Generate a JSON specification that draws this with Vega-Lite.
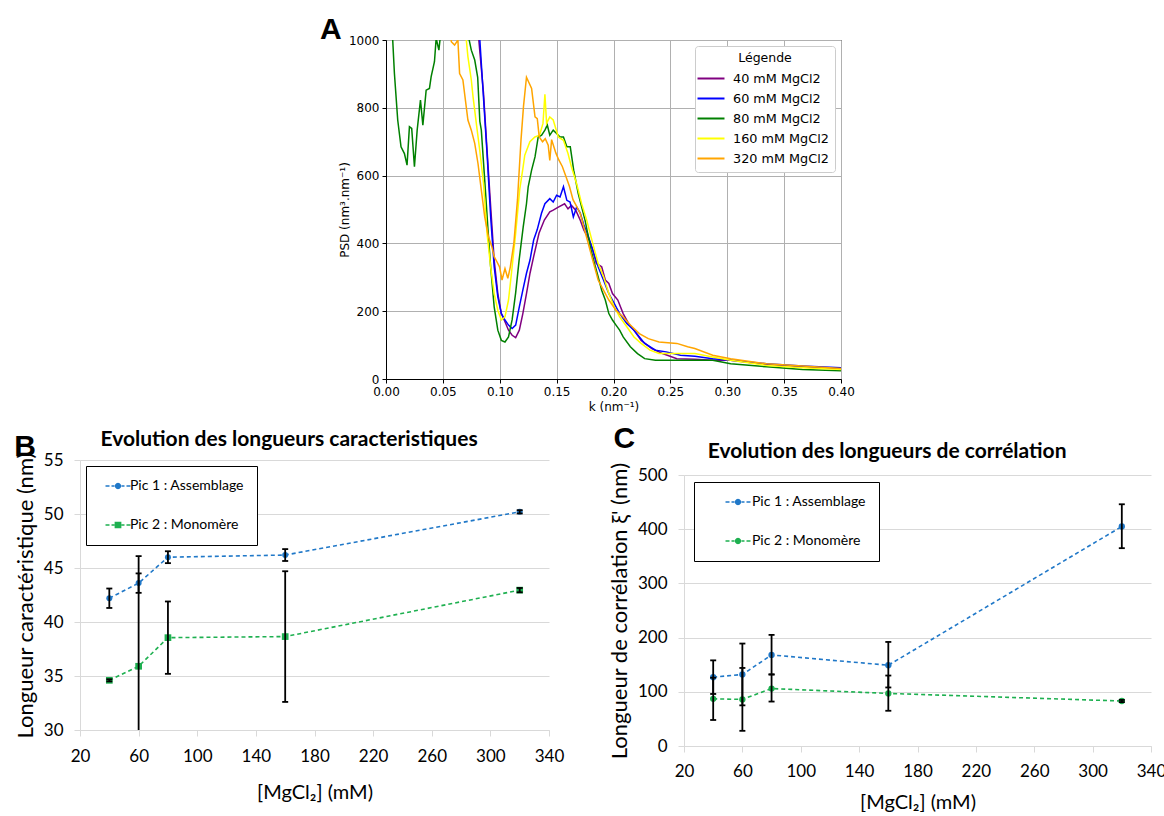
{
"$schema":"https://vega.github.io/schema/vega-lite/v6.json",
"padding":{"left":14,"top":14,"right":0,"bottom":0},
"background":"white",
"config":{"view":{"stroke":null},"font":"Lato","title":{"color":"#000"},"axis":{"labelColor":"#000","titleColor":"#000","titleFontWeight":"normal","labelOverlap":false}},
"spacing":11,
"resolve":{"scale":{"color":"independent","shape":"independent"},"legend":{"color":"independent","shape":"independent"}},
"datasets":{
"psd":[
{"s":"40 mM MgCl2","k":0.079,"p":1250},{"s":"40 mM MgCl2","k":0.0816,"p":1000},{"s":"40 mM MgCl2","k":0.0857,"p":844},{"s":"40 mM MgCl2","k":0.0888,"p":677},{"s":"40 mM MgCl2","k":0.092,"p":509},{"s":"40 mM MgCl2","k":0.0951,"p":351},{"s":"40 mM MgCl2","k":0.0983,"p":252},{"s":"40 mM MgCl2","k":0.1014,"p":193},{"s":"40 mM MgCl2","k":0.1046,"p":169},{"s":"40 mM MgCl2","k":0.1077,"p":144},{"s":"40 mM MgCl2","k":0.1109,"p":129},{"s":"40 mM MgCl2","k":0.114,"p":122},{"s":"40 mM MgCl2","k":0.1172,"p":144},{"s":"40 mM MgCl2","k":0.1203,"p":193},{"s":"40 mM MgCl2","k":0.1235,"p":252},{"s":"40 mM MgCl2","k":0.1266,"p":312},{"s":"40 mM MgCl2","k":0.1298,"p":361},{"s":"40 mM MgCl2","k":0.1345,"p":430},{"s":"40 mM MgCl2","k":0.1392,"p":469},{"s":"40 mM MgCl2","k":0.144,"p":493},{"s":"40 mM MgCl2","k":0.147,"p":498},{"s":"40 mM MgCl2","k":0.1515,"p":507},{"s":"40 mM MgCl2","k":0.157,"p":517},{"s":"40 mM MgCl2","k":0.16,"p":502},{"s":"40 mM MgCl2","k":0.163,"p":512},{"s":"40 mM MgCl2","k":0.1668,"p":498},{"s":"40 mM MgCl2","k":0.1707,"p":469},{"s":"40 mM MgCl2","k":0.1739,"p":440},{"s":"40 mM MgCl2","k":0.1786,"p":410},{"s":"40 mM MgCl2","k":0.1817,"p":381},{"s":"40 mM MgCl2","k":0.1849,"p":341},{"s":"40 mM MgCl2","k":0.1896,"p":331},{"s":"40 mM MgCl2","k":0.1928,"p":292},{"s":"40 mM MgCl2","k":0.1959,"p":282},{"s":"40 mM MgCl2","k":0.1991,"p":252},{"s":"40 mM MgCl2","k":0.2038,"p":233},{"s":"40 mM MgCl2","k":0.2085,"p":193},{"s":"40 mM MgCl2","k":0.2132,"p":164},{"s":"40 mM MgCl2","k":0.218,"p":144},{"s":"40 mM MgCl2","k":0.2243,"p":114},{"s":"40 mM MgCl2","k":0.2337,"p":90},{"s":"40 mM MgCl2","k":0.2431,"p":75},{"s":"40 mM MgCl2","k":0.2557,"p":60},{"s":"40 mM MgCl2","k":0.2715,"p":58},{"s":"40 mM MgCl2","k":0.2872,"p":55},{"s":"40 mM MgCl2","k":0.303,"p":55},{"s":"40 mM MgCl2","k":0.3345,"p":43},{"s":"40 mM MgCl2","k":0.3661,"p":36},{"s":"40 mM MgCl2","k":0.4,"p":30},
{"s":"60 mM MgCl2","k":0.08,"p":1250},{"s":"60 mM MgCl2","k":0.0825,"p":1000},{"s":"60 mM MgCl2","k":0.0857,"p":830},{"s":"60 mM MgCl2","k":0.0888,"p":667},{"s":"60 mM MgCl2","k":0.092,"p":479},{"s":"60 mM MgCl2","k":0.0951,"p":331},{"s":"60 mM MgCl2","k":0.0983,"p":242},{"s":"60 mM MgCl2","k":0.1014,"p":193},{"s":"60 mM MgCl2","k":0.1046,"p":174},{"s":"60 mM MgCl2","k":0.1077,"p":159},{"s":"60 mM MgCl2","k":0.1109,"p":149},{"s":"60 mM MgCl2","k":0.114,"p":159},{"s":"60 mM MgCl2","k":0.1172,"p":213},{"s":"60 mM MgCl2","k":0.1203,"p":262},{"s":"60 mM MgCl2","k":0.1235,"p":312},{"s":"60 mM MgCl2","k":0.1266,"p":351},{"s":"60 mM MgCl2","k":0.1298,"p":410},{"s":"60 mM MgCl2","k":0.1329,"p":440},{"s":"60 mM MgCl2","k":0.1367,"p":489},{"s":"60 mM MgCl2","k":0.1397,"p":517},{"s":"60 mM MgCl2","k":0.144,"p":532},{"s":"60 mM MgCl2","k":0.147,"p":522},{"s":"60 mM MgCl2","k":0.15,"p":542},{"s":"60 mM MgCl2","k":0.153,"p":537},{"s":"60 mM MgCl2","k":0.156,"p":567},{"s":"60 mM MgCl2","k":0.159,"p":527},{"s":"60 mM MgCl2","k":0.1618,"p":522},{"s":"60 mM MgCl2","k":0.1647,"p":478},{"s":"60 mM MgCl2","k":0.1676,"p":507},{"s":"60 mM MgCl2","k":0.1707,"p":490},{"s":"60 mM MgCl2","k":0.1739,"p":455},{"s":"60 mM MgCl2","k":0.177,"p":430},{"s":"60 mM MgCl2","k":0.1817,"p":381},{"s":"60 mM MgCl2","k":0.1865,"p":331},{"s":"60 mM MgCl2","k":0.1912,"p":292},{"s":"60 mM MgCl2","k":0.1959,"p":252},{"s":"60 mM MgCl2","k":0.2006,"p":223},{"s":"60 mM MgCl2","k":0.2054,"p":193},{"s":"60 mM MgCl2","k":0.2117,"p":164},{"s":"60 mM MgCl2","k":0.218,"p":144},{"s":"60 mM MgCl2","k":0.2274,"p":105},{"s":"60 mM MgCl2","k":0.2369,"p":85},{"s":"60 mM MgCl2","k":0.2463,"p":80},{"s":"60 mM MgCl2","k":0.2589,"p":70},{"s":"60 mM MgCl2","k":0.2715,"p":67},{"s":"60 mM MgCl2","k":0.2872,"p":60},{"s":"60 mM MgCl2","k":0.303,"p":55},{"s":"60 mM MgCl2","k":0.3345,"p":45},{"s":"60 mM MgCl2","k":0.3661,"p":38},{"s":"60 mM MgCl2","k":0.4,"p":33},
{"s":"80 mM MgCl2","k":0,"p":1400},{"s":"80 mM MgCl2","k":0.0059,"p":1000},{"s":"80 mM MgCl2","k":0.0074,"p":901},{"s":"80 mM MgCl2","k":0.0103,"p":764},{"s":"80 mM MgCl2","k":0.0132,"p":685},{"s":"80 mM MgCl2","k":0.0162,"p":665},{"s":"80 mM MgCl2","k":0.0185,"p":631},{"s":"80 mM MgCl2","k":0.0206,"p":744},{"s":"80 mM MgCl2","k":0.0226,"p":739},{"s":"80 mM MgCl2","k":0.025,"p":626},{"s":"80 mM MgCl2","k":0.0274,"p":734},{"s":"80 mM MgCl2","k":0.0303,"p":823},{"s":"80 mM MgCl2","k":0.0324,"p":749},{"s":"80 mM MgCl2","k":0.0353,"p":852},{"s":"80 mM MgCl2","k":0.0382,"p":857},{"s":"80 mM MgCl2","k":0.0397,"p":892},{"s":"80 mM MgCl2","k":0.0426,"p":936},{"s":"80 mM MgCl2","k":0.0441,"p":1005},{"s":"80 mM MgCl2","k":0.0465,"p":970},{"s":"80 mM MgCl2","k":0.0476,"p":1005},{"s":"80 mM MgCl2","k":0.05,"p":1400},{"s":"80 mM MgCl2","k":0.07,"p":1400},{"s":"80 mM MgCl2","k":0.0731,"p":1000},{"s":"80 mM MgCl2","k":0.075,"p":970},{"s":"80 mM MgCl2","k":0.078,"p":941},{"s":"80 mM MgCl2","k":0.0806,"p":890},{"s":"80 mM MgCl2","k":0.0825,"p":760},{"s":"80 mM MgCl2","k":0.0838,"p":734},{"s":"80 mM MgCl2","k":0.0868,"p":586},{"s":"80 mM MgCl2","k":0.0897,"p":439},{"s":"80 mM MgCl2","k":0.092,"p":331},{"s":"80 mM MgCl2","k":0.0951,"p":213},{"s":"80 mM MgCl2","k":0.0983,"p":144},{"s":"80 mM MgCl2","k":0.1014,"p":114},{"s":"80 mM MgCl2","k":0.1046,"p":109},{"s":"80 mM MgCl2","k":0.1077,"p":124},{"s":"80 mM MgCl2","k":0.1109,"p":175},{"s":"80 mM MgCl2","k":0.114,"p":255},{"s":"80 mM MgCl2","k":0.117,"p":350},{"s":"80 mM MgCl2","k":0.1206,"p":448},{"s":"80 mM MgCl2","k":0.1235,"p":517},{"s":"80 mM MgCl2","k":0.125,"p":567},{"s":"80 mM MgCl2","k":0.128,"p":616},{"s":"80 mM MgCl2","k":0.131,"p":655},{"s":"80 mM MgCl2","k":0.1338,"p":714},{"s":"80 mM MgCl2","k":0.1368,"p":719},{"s":"80 mM MgCl2","k":0.1397,"p":734},{"s":"80 mM MgCl2","k":0.1418,"p":749},{"s":"80 mM MgCl2","k":0.144,"p":719},{"s":"80 mM MgCl2","k":0.147,"p":734},{"s":"80 mM MgCl2","k":0.15,"p":724},{"s":"80 mM MgCl2","k":0.153,"p":714},{"s":"80 mM MgCl2","k":0.156,"p":714},{"s":"80 mM MgCl2","k":0.159,"p":685},{"s":"80 mM MgCl2","k":0.162,"p":685},{"s":"80 mM MgCl2","k":0.165,"p":616},{"s":"80 mM MgCl2","k":0.169,"p":547},{"s":"80 mM MgCl2","k":0.175,"p":468},{"s":"80 mM MgCl2","k":0.1802,"p":381},{"s":"80 mM MgCl2","k":0.1833,"p":341},{"s":"80 mM MgCl2","k":0.1865,"p":302},{"s":"80 mM MgCl2","k":0.1896,"p":262},{"s":"80 mM MgCl2","k":0.1928,"p":233},{"s":"80 mM MgCl2","k":0.1959,"p":193},{"s":"80 mM MgCl2","k":0.1991,"p":174},{"s":"80 mM MgCl2","k":0.2022,"p":159},{"s":"80 mM MgCl2","k":0.2054,"p":144},{"s":"80 mM MgCl2","k":0.2085,"p":124},{"s":"80 mM MgCl2","k":0.2148,"p":95},{"s":"80 mM MgCl2","k":0.2211,"p":75},{"s":"80 mM MgCl2","k":0.2274,"p":60},{"s":"80 mM MgCl2","k":0.2369,"p":55},{"s":"80 mM MgCl2","k":0.2589,"p":55},{"s":"80 mM MgCl2","k":0.2872,"p":55},{"s":"80 mM MgCl2","k":0.303,"p":45},{"s":"80 mM MgCl2","k":0.3345,"p":36},{"s":"80 mM MgCl2","k":0.3661,"p":28},{"s":"80 mM MgCl2","k":0.4,"p":24},
{"s":"160 mM MgCl2","k":0.068,"p":1200},{"s":"160 mM MgCl2","k":0.0706,"p":1000},{"s":"160 mM MgCl2","k":0.072,"p":951},{"s":"160 mM MgCl2","k":0.075,"p":882},{"s":"160 mM MgCl2","k":0.0765,"p":833},{"s":"160 mM MgCl2","k":0.0794,"p":754},{"s":"160 mM MgCl2","k":0.0824,"p":675},{"s":"160 mM MgCl2","k":0.0857,"p":578},{"s":"160 mM MgCl2","k":0.0888,"p":430},{"s":"160 mM MgCl2","k":0.092,"p":331},{"s":"160 mM MgCl2","k":0.0951,"p":252},{"s":"160 mM MgCl2","k":0.0983,"p":203},{"s":"160 mM MgCl2","k":0.1014,"p":174},{"s":"160 mM MgCl2","k":0.1046,"p":183},{"s":"160 mM MgCl2","k":0.1077,"p":233},{"s":"160 mM MgCl2","k":0.1109,"p":331},{"s":"160 mM MgCl2","k":0.114,"p":430},{"s":"160 mM MgCl2","k":0.1176,"p":560},{"s":"160 mM MgCl2","k":0.1203,"p":620},{"s":"160 mM MgCl2","k":0.122,"p":660},{"s":"160 mM MgCl2","k":0.1265,"p":700},{"s":"160 mM MgCl2","k":0.1309,"p":714},{"s":"160 mM MgCl2","k":0.135,"p":719},{"s":"160 mM MgCl2","k":0.138,"p":754},{"s":"160 mM MgCl2","k":0.1397,"p":840},{"s":"160 mM MgCl2","k":0.1412,"p":754},{"s":"160 mM MgCl2","k":0.144,"p":773},{"s":"160 mM MgCl2","k":0.147,"p":764},{"s":"160 mM MgCl2","k":0.1515,"p":714},{"s":"160 mM MgCl2","k":0.156,"p":704},{"s":"160 mM MgCl2","k":0.16,"p":665},{"s":"160 mM MgCl2","k":0.163,"p":626},{"s":"160 mM MgCl2","k":0.1676,"p":576},{"s":"160 mM MgCl2","k":0.172,"p":517},{"s":"160 mM MgCl2","k":0.1765,"p":468},{"s":"160 mM MgCl2","k":0.1802,"p":420},{"s":"160 mM MgCl2","k":0.1833,"p":380},{"s":"160 mM MgCl2","k":0.1865,"p":341},{"s":"160 mM MgCl2","k":0.1912,"p":302},{"s":"160 mM MgCl2","k":0.1959,"p":252},{"s":"160 mM MgCl2","k":0.2006,"p":213},{"s":"160 mM MgCl2","k":0.2054,"p":183},{"s":"160 mM MgCl2","k":0.2117,"p":154},{"s":"160 mM MgCl2","k":0.218,"p":124},{"s":"160 mM MgCl2","k":0.2243,"p":105},{"s":"160 mM MgCl2","k":0.2321,"p":85},{"s":"160 mM MgCl2","k":0.24,"p":75},{"s":"160 mM MgCl2","k":0.2557,"p":75},{"s":"160 mM MgCl2","k":0.2715,"p":75},{"s":"160 mM MgCl2","k":0.2872,"p":65},{"s":"160 mM MgCl2","k":0.303,"p":55},{"s":"160 mM MgCl2","k":0.3345,"p":40},{"s":"160 mM MgCl2","k":0.3661,"p":33},{"s":"160 mM MgCl2","k":0.4,"p":28},
{"s":"320 mM MgCl2","k":0.054,"p":1200},{"s":"320 mM MgCl2","k":0.0574,"p":995},{"s":"320 mM MgCl2","k":0.0603,"p":985},{"s":"320 mM MgCl2","k":0.0632,"p":1000},{"s":"320 mM MgCl2","k":0.0647,"p":901},{"s":"320 mM MgCl2","k":0.0676,"p":882},{"s":"320 mM MgCl2","k":0.072,"p":764},{"s":"320 mM MgCl2","k":0.075,"p":734},{"s":"320 mM MgCl2","k":0.078,"p":695},{"s":"320 mM MgCl2","k":0.0809,"p":635},{"s":"320 mM MgCl2","k":0.0838,"p":557},{"s":"320 mM MgCl2","k":0.0868,"p":478},{"s":"320 mM MgCl2","k":0.09,"p":420},{"s":"320 mM MgCl2","k":0.093,"p":391},{"s":"320 mM MgCl2","k":0.0951,"p":361},{"s":"320 mM MgCl2","k":0.0967,"p":351},{"s":"320 mM MgCl2","k":0.0998,"p":331},{"s":"320 mM MgCl2","k":0.102,"p":292},{"s":"320 mM MgCl2","k":0.1046,"p":326},{"s":"320 mM MgCl2","k":0.1071,"p":297},{"s":"320 mM MgCl2","k":0.1093,"p":331},{"s":"320 mM MgCl2","k":0.1124,"p":400},{"s":"320 mM MgCl2","k":0.1156,"p":529},{"s":"320 mM MgCl2","k":0.1187,"p":706},{"s":"320 mM MgCl2","k":0.1209,"p":805},{"s":"320 mM MgCl2","k":0.1235,"p":890},{"s":"320 mM MgCl2","k":0.128,"p":857},{"s":"320 mM MgCl2","k":0.131,"p":773},{"s":"320 mM MgCl2","k":0.133,"p":768},{"s":"320 mM MgCl2","k":0.1347,"p":714},{"s":"320 mM MgCl2","k":0.1376,"p":700},{"s":"320 mM MgCl2","k":0.14,"p":709},{"s":"320 mM MgCl2","k":0.1426,"p":690},{"s":"320 mM MgCl2","k":0.144,"p":645},{"s":"320 mM MgCl2","k":0.1456,"p":706},{"s":"320 mM MgCl2","k":0.1493,"p":667},{"s":"320 mM MgCl2","k":0.1518,"p":647},{"s":"320 mM MgCl2","k":0.155,"p":627},{"s":"320 mM MgCl2","k":0.1581,"p":598},{"s":"320 mM MgCl2","k":0.1613,"p":568},{"s":"320 mM MgCl2","k":0.1644,"p":529},{"s":"320 mM MgCl2","k":0.1676,"p":509},{"s":"320 mM MgCl2","k":0.1707,"p":489},{"s":"320 mM MgCl2","k":0.1739,"p":449},{"s":"320 mM MgCl2","k":0.177,"p":410},{"s":"320 mM MgCl2","k":0.1817,"p":351},{"s":"320 mM MgCl2","k":0.1865,"p":292},{"s":"320 mM MgCl2","k":0.1912,"p":262},{"s":"320 mM MgCl2","k":0.1959,"p":233},{"s":"320 mM MgCl2","k":0.2022,"p":203},{"s":"320 mM MgCl2","k":0.2085,"p":183},{"s":"320 mM MgCl2","k":0.2148,"p":159},{"s":"320 mM MgCl2","k":0.2227,"p":134},{"s":"320 mM MgCl2","k":0.2306,"p":119},{"s":"320 mM MgCl2","k":0.24,"p":109},{"s":"320 mM MgCl2","k":0.2557,"p":105},{"s":"320 mM MgCl2","k":0.2652,"p":95},{"s":"320 mM MgCl2","k":0.2715,"p":90},{"s":"320 mM MgCl2","k":0.2872,"p":70},{"s":"320 mM MgCl2","k":0.303,"p":60},{"s":"320 mM MgCl2","k":0.3345,"p":45},{"s":"320 mM MgCl2","k":0.3661,"p":38},{"s":"320 mM MgCl2","k":0.4,"p":31}
],
"lb":[
{"c":40,"serie":"Pic 1 : Assemblage","v":42.2,"lo":41.3,"hi":43.1},{"c":60,"serie":"Pic 1 : Assemblage","v":43.6,"lo":42.7,"hi":44.5},{"c":80,"serie":"Pic 1 : Assemblage","v":46.0,"lo":45.45,"hi":46.55},{"c":160,"serie":"Pic 1 : Assemblage","v":46.2,"lo":45.65,"hi":46.75},{"c":320,"serie":"Pic 1 : Assemblage","v":50.2,"lo":50.05,"hi":50.35},
{"c":40,"serie":"Pic 2 : Monomère","v":34.6,"lo":34.5,"hi":34.7},{"c":60,"serie":"Pic 2 : Monomère","v":35.9,"lo":25.7,"hi":46.1},{"c":80,"serie":"Pic 2 : Monomère","v":38.55,"lo":35.2,"hi":41.9},{"c":160,"serie":"Pic 2 : Monomère","v":38.65,"lo":32.6,"hi":44.7},{"c":320,"serie":"Pic 2 : Monomère","v":42.95,"lo":42.75,"hi":43.15}
],
"lc":[
{"c":40,"serie":"Pic 1 : Assemblage","v":127,"lo":96,"hi":158},{"c":60,"serie":"Pic 1 : Assemblage","v":132,"lo":75,"hi":189},{"c":80,"serie":"Pic 1 : Assemblage","v":168,"lo":132,"hi":205},{"c":160,"serie":"Pic 1 : Assemblage","v":149,"lo":108,"hi":192},{"c":320,"serie":"Pic 1 : Assemblage","v":405,"lo":365,"hi":446},
{"c":40,"serie":"Pic 2 : Monomère","v":87,"lo":48,"hi":126},{"c":60,"serie":"Pic 2 : Monomère","v":86,"lo":28,"hi":144},{"c":80,"serie":"Pic 2 : Monomère","v":106,"lo":82,"hi":132},{"c":160,"serie":"Pic 2 : Monomère","v":97,"lo":65,"hi":130},{"c":320,"serie":"Pic 2 : Monomère","v":83,"lo":81,"hi":85}
]
},
"vconcat":[
{"spacing":20,"resolve":{"scale":{"color":"independent","shape":"independent"},"legend":{"color":"independent","shape":"independent"}},"hconcat":[
 {"width":219,"height":10,"data":{"values":[]},"mark":"point"},
 {"width":455,"height":339,
  "view":{"stroke":"#000","strokeWidth":1},
  "title":{"text":"A","anchor":"start","frame":"group","font":"Liberation Sans","fontSize":30,"fontWeight":"bold","dx":-66,"dy":11,"offset":0},
  "data":{"name":"psd"},
  "mark":{"type":"line","strokeWidth":1.5,"clip":true},
  "encoding":{
   "x":{"field":"k","type":"quantitative","scale":{"domain":[0,0.4],"nice":false,"zero":false},
    "axis":{"values":[0,0.05,0.1,0.15,0.2,0.25,0.3,0.35,0.4],"format":".2f","title":"k (nm⁻¹)","labelFont":"DejaVu Sans","labelFontSize":12,"titleFont":"DejaVu Sans","titleFontSize":12,"grid":true,"gridColor":"#b0b0b0","gridWidth":1,"tickColor":"#000","tickSize":4,"domainColor":"#000","labelPadding":3,"titlePadding":4,"labelFlush":false}},
   "y":{"field":"p","type":"quantitative","scale":{"domain":[0,1000],"nice":false},
    "axis":{"values":[0,200,400,600,800,1000],"format":"d","title":"PSD (nm³.nm⁻¹)","labelFont":"DejaVu Sans","labelFontSize":12,"titleFont":"DejaVu Sans","titleFontSize":12,"grid":true,"gridColor":"#b0b0b0","gridWidth":1,"tickColor":"#000","tickSize":4,"domainColor":"#000","labelPadding":3,"titlePadding":-3,"labelFlush":false}},
   "color":{"field":"s","type":"nominal","scale":{"domain":["40 mM MgCl2","60 mM MgCl2","80 mM MgCl2","160 mM MgCl2","320 mM MgCl2"],"range":["#800080","#0000ff","#008000","#ffff00","#ffa500"]},
    "legend":{"title":"Légende","orient":"top-right","offset":6,"titleAnchor":"middle","titleFont":"DejaVu Sans","titleFontSize":12.5,"titleFontWeight":"normal","labelFont":"DejaVu Sans","labelFontSize":12.8,"symbolType":"M-2,0H2","symbolSize":182,"symbolStrokeWidth":2,"symbolOffset":2,"labelOffset":14,"padding":6,"rowPadding":5,"titlePadding":6,"strokeColor":"#cccccc","fillColor":"#ffffff","cornerRadius":3}}
  }
 }
]},
{"spacing":44,"resolve":{"scale":{"color":"independent","shape":"independent"},"legend":{"color":"independent","shape":"independent"}},"hconcat":[
 {"title":{"text":"B","anchor":"start","frame":"bounds","font":"Liberation Sans","fontSize":30,"fontWeight":"bold","offset":0,"dy":33},
  "resolve":{"scale":{"color":"independent","shape":"independent"},"legend":{"color":"independent","shape":"independent"}},
  "vconcat":[
  {"width":469,"height":270,
   "title":{"text":"Evolution des longueurs caracteristiques","anchor":"middle","frame":"bounds","font":"Lato","fontSize":21,"fontWeight":"bold","offset":-1},
   "data":{"name":"lb"},
   "encoding":{"x":{"field":"c","type":"quantitative","scale":{"domain":[20,340],"nice":false,"zero":false},
     "axis":{"values":[20,60,100,140,180,220,260,300,340],"grid":false,"domainColor":"#d9d9d9","tickColor":"#d9d9d9","tickSize":6,"labelFont":"Lato","labelFontSize":17,"labelPadding":12,"labelFlush":false,"title":"[MgCl₂] (mM)","titleFont":"Lato","titleFontSize":20,"titlePadding":18}}},
   "layer":[
    {"mark":{"type":"line","strokeDash":[4,3],"strokeWidth":1.6},
     "encoding":{"y":{"field":"v","type":"quantitative","scale":{"domain":[30,55],"nice":false,"zero":false},
       "axis":{"values":[30,35,40,45,50,55],"grid":true,"gridColor":"#d9d9d9","domainColor":"#d9d9d9","tickColor":"#d9d9d9","tickSize":6,"labelFont":"Lato","labelFontSize":17,"labelPadding":11,"title":"Longueur caractéristique  (nm)","titleFont":"Lato","titleFontSize":22,"titlePadding":6}},
      "stroke":{"field":"serie","type":"nominal","scale":{"domain":["Pic 1 : Assemblage","Pic 2 : Monomère"],"range":["#2078c8","#1eb050"]},"legend":null}}},
    {"mark":{"type":"point","filled":true,"opacity":1},
     "encoding":{"y":{"field":"v","type":"quantitative"},
      "fill":{"field":"serie","type":"nominal","scale":{"domain":["Pic 1 : Assemblage","Pic 2 : Monomère"],"range":["#2078c8","#1eb050"]},"legend":null},
      "shape":{"condition":{"test":"datum.serie === 'Pic 2 : Monomère'","value":"square"},"value":"circle"},
      "size":{"condition":{"test":"datum.serie === 'Pic 2 : Monomère'","value":45},"value":36}}},
    {"mark":{"type":"rule","color":"#000","strokeWidth":1.8,"clip":true},
     "encoding":{"y":{"field":"lo","type":"quantitative"},"y2":{"field":"hi"}}},
    {"mark":{"type":"tick","orient":"horizontal","color":"#000","size":6,"thickness":1.8,"opacity":1,"clip":true},
     "encoding":{"y":{"field":"lo","type":"quantitative"}}},
    {"mark":{"type":"tick","orient":"horizontal","color":"#000","size":6,"thickness":1.8,"opacity":1,"clip":true},
     "encoding":{"y":{"field":"hi","type":"quantitative"}}},
    {"transform":[{"filter":"false"}],
     "mark":{"type":"point","filled":true,"opacity":1},
     "encoding":{
      "color":{"field":"serie","type":"nominal","scale":{"domain":["Pic 1 : Assemblage","Pic 2 : Monomère"],"range":["#2078c8","#1eb050"]},"legend":{"title":null,"orient":"top-left","offset":6,"strokeColor":"#000","fillColor":"#fff","padding":13,"symbolOffset":12,"rowPadding":25,"labelFont":"Lato","labelFontSize":14,"labelOffset":5,"symbolSize":156,"symbolStrokeWidth":0}},
      "shape":{"field":"serie","type":"nominal","scale":{"domain":["Pic 1 : Assemblage","Pic 2 : Monomère"],"range":["M-2,-0.13H-1.36V0.13H-2Z M-1.04,-0.13H-0.56V0.13H-1.04Z M0.56,-0.13H1.04V0.13H0.56Z M1.36,-0.13H2V0.13H1.36Z M0.52,0L0.45,0.26L0.26,0.45L0,0.52L-0.26,0.45L-0.45,0.26L-0.52,0L-0.45,-0.26L-0.26,-0.45L0,-0.52L0.26,-0.45L0.45,-0.26Z","M-2,-0.13H-1.36V0.13H-2Z M-1.04,-0.13H-0.56V0.13H-1.04Z M0.56,-0.13H1.04V0.13H0.56Z M1.36,-0.13H2V0.13H1.36Z M-0.54,-0.54H0.54V0.54H-0.54Z"]},
       "legend":{"title":null,"orient":"top-left","offset":6,"strokeColor":"#000","fillColor":"#fff","padding":13,"symbolOffset":12,"rowPadding":25,"labelFont":"Lato","labelFontSize":14,"labelOffset":5,"symbolSize":156,"symbolStrokeWidth":0}}}}
   ]}
 ]},
 {"title":{"text":"C","anchor":"start","frame":"bounds","font":"Liberation Sans","fontSize":30,"fontWeight":"bold","offset":0,"dy":13,"dx":5},
  "resolve":{"scale":{"color":"independent","shape":"independent"},"legend":{"color":"independent","shape":"independent"}},
  "vconcat":[
  {"width":467,"height":286,
   "title":{"text":"Evolution des longueurs de corrélation","anchor":"middle","frame":"bounds","font":"Lato","fontSize":21,"fontWeight":"bold","offset":-2},
   "data":{"name":"lc"},
   "encoding":{"x":{"field":"c","type":"quantitative","scale":{"domain":[20,340],"nice":false,"zero":false},
     "axis":{"values":[20,60,100,140,180,220,260,300,340],"grid":false,"domainColor":"#d9d9d9","tickColor":"#d9d9d9","tickSize":6,"labelFont":"Lato","labelFontSize":17,"labelPadding":11,"labelFlush":false,"title":"[MgCl₂] (mM)","titleFont":"Lato","titleFontSize":20,"titlePadding":13}}},
   "layer":[
    {"mark":{"type":"line","strokeDash":[4,3],"strokeWidth":1.6},
     "encoding":{"y":{"field":"v","type":"quantitative","scale":{"domain":[0,500],"nice":false,"zero":false,"range":[286,15]},
       "axis":{"values":[0,100,200,300,400,500],"grid":true,"gridColor":"#d9d9d9","domainColor":"#d9d9d9","tickColor":"#d9d9d9","tickSize":6,"labelFont":"Lato","labelFontSize":17,"labelPadding":11,"title":"Longueur de corrélation ξ' (nm)","titleFont":"Lato","titleFontSize":22,"titlePadding":6}},
      "stroke":{"field":"serie","type":"nominal","scale":{"domain":["Pic 1 : Assemblage","Pic 2 : Monomère"],"range":["#2078c8","#1eb050"]},"legend":null}}},
    {"mark":{"type":"point","filled":true,"opacity":1,"shape":"circle","size":40},
     "encoding":{"y":{"field":"v","type":"quantitative"},
      "fill":{"field":"serie","type":"nominal","scale":{"domain":["Pic 1 : Assemblage","Pic 2 : Monomère"],"range":["#2078c8","#1eb050"]},"legend":null}}},
    {"mark":{"type":"rule","color":"#000","strokeWidth":1.8,"clip":true},
     "encoding":{"y":{"field":"lo","type":"quantitative"},"y2":{"field":"hi"}}},
    {"mark":{"type":"tick","orient":"horizontal","color":"#000","size":6,"thickness":1.8,"opacity":1,"clip":true},
     "encoding":{"y":{"field":"lo","type":"quantitative"}}},
    {"mark":{"type":"tick","orient":"horizontal","color":"#000","size":6,"thickness":1.8,"opacity":1,"clip":true},
     "encoding":{"y":{"field":"hi","type":"quantitative"}}},
    {"transform":[{"filter":"false"}],
     "mark":{"type":"point","filled":true,"opacity":1},
     "encoding":{
      "color":{"field":"serie","type":"nominal","scale":{"domain":["Pic 1 : Assemblage","Pic 2 : Monomère"],"range":["#2078c8","#1eb050"]},"legend":{"title":null,"orient":"none","legendX":10,"legendY":22,"strokeColor":"#000","fillColor":"#fff","padding":13,"symbolOffset":24,"rowPadding":25,"labelFont":"Lato","labelFontSize":14,"labelOffset":7,"symbolSize":156,"symbolStrokeWidth":0}},
      "shape":{"field":"serie","type":"nominal","scale":{"domain":["Pic 1 : Assemblage","Pic 2 : Monomère"],"range":["M-2,-0.13H-1.36V0.13H-2Z M-1.04,-0.13H-0.56V0.13H-1.04Z M0.56,-0.13H1.04V0.13H0.56Z M1.36,-0.13H2V0.13H1.36Z M0.52,0L0.45,0.26L0.26,0.45L0,0.52L-0.26,0.45L-0.45,0.26L-0.52,0L-0.45,-0.26L-0.26,-0.45L0,-0.52L0.26,-0.45L0.45,-0.26Z","M-2,-0.13H-1.36V0.13H-2Z M-1.04,-0.13H-0.56V0.13H-1.04Z M0.56,-0.13H1.04V0.13H0.56Z M1.36,-0.13H2V0.13H1.36Z M0.52,0L0.45,0.26L0.26,0.45L0,0.52L-0.26,0.45L-0.45,0.26L-0.52,0L-0.45,-0.26L-0.26,-0.45L0,-0.52L0.26,-0.45L0.45,-0.26Z"]},
       "legend":{"title":null,"orient":"none","legendX":10,"legendY":22,"strokeColor":"#000","fillColor":"#fff","padding":13,"symbolOffset":24,"rowPadding":25,"labelFont":"Lato","labelFontSize":14,"labelOffset":7,"symbolSize":156,"symbolStrokeWidth":0}}}}
   ]}
 ]}
]}
]
}
